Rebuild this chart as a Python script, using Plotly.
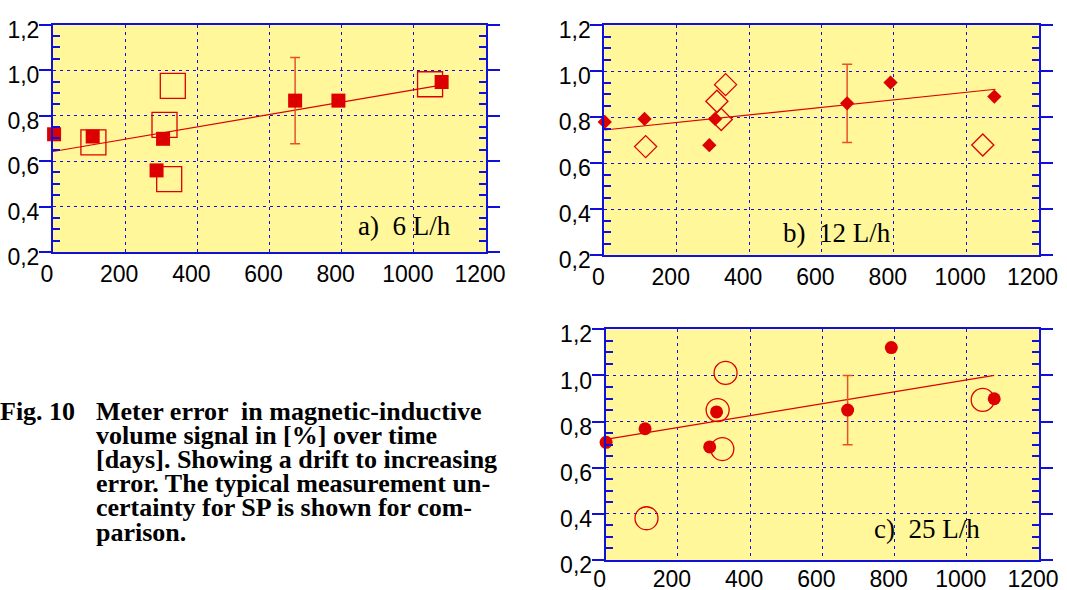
import plotly.graph_objects as go

# ---------------- data ----------------
# panel a) 6 L/h
a_fill_x = [3, 110, 287, 305, 671, 791, 1077]
a_fill_y = [0.718, 0.708, 0.559, 0.698, 0.866, 0.866, 0.948]
a_open_x = [112, 322, 309, 332, 1045]
a_open_y = [0.682, 0.521, 0.759, 0.931, 0.938]
a_trend_x = [0, 1080]
a_trend_y = [0.642, 0.935]
a_err_x = [671]
a_err_y = [0.866]
a_err = [0.19]

# panel b) 12 L/h
b_fill_x = [1, 111, 290, 306, 671, 791, 1078]
b_fill_y = [0.779, 0.792, 0.678, 0.792, 0.860, 0.950, 0.889]
b_open_x = [114, 311, 335, 323, 1046]
b_open_y = [0.672, 0.869, 0.941, 0.790, 0.679]
b_trend_x = [0, 1081]
b_trend_y = [0.744, 0.921]
b_err_x = [671]
b_err_y = [0.860]
b_err = [0.17]

# panel c) 25 L/h
c_fill_x = [1, 109, 288, 307, 670, 791, 1076]
c_fill_y = [0.710, 0.769, 0.690, 0.842, 0.850, 1.121, 0.899]
c_open_x = [113, 323, 310, 332, 1044]
c_open_y = [0.381, 0.681, 0.850, 1.011, 0.894]
c_trend_x = [0, 1076]
c_trend_y = [0.723, 1.000]
c_err_x = [670]
c_err_y = [0.850]
c_err = [0.15]

x_range = [0, 1200]
y_range = [0.2, 1.2]
y_minor_step = 0.05
panel_labels = ["a)  6 L/h", "b)  12 L/h", "c)  25 L/h"]
caption_first = "Fig. 10"
caption_lines = [
    "Meter error  in magnetic-inductive",
    "volume signal in [%] over time",
    "[days]. Showing a drift to increasing",
    "error. The typical measurement un-",
    "certainty for SP is shown for com-",
    "parison.",
]

# ---------------- style ----------------
RED = "#dd0000"
ERR = "#e8502a"
BLUE = "#1010d8"
YELLOW = "#fff799"
W, H = 1067, 590

n_minor = int(round((y_range[1] - y_range[0]) / y_minor_step))
minor_vals = [round(y_range[0] + k * y_minor_step, 3) for k in range(n_minor + 1)
              if k % 4 != 0]

fig = go.Figure()

panels = [
    dict(fx=a_fill_x, fy=a_fill_y, ox=a_open_x, oy=a_open_y, tx=a_trend_x, ty=a_trend_y,
         ex=a_err_x, ey=a_err_y, ee=a_err, fsym="square", osym="square-open", fsize=14, osize=25),
    dict(fx=b_fill_x, fy=b_fill_y, ox=b_open_x, oy=b_open_y, tx=b_trend_x, ty=b_trend_y,
         ex=b_err_x, ey=b_err_y, ee=b_err, fsym="diamond", osym="diamond-open", fsize=11, osize=17),
    dict(fx=c_fill_x, fy=c_fill_y, ox=c_open_x, oy=c_open_y, tx=c_trend_x, ty=c_trend_y,
         ex=c_err_x, ey=c_err_y, ee=c_err, fsym="circle", osym="circle-open", fsize=13, osize=23),
]

# pixel geometry of the three plot areas: (left, right, top, bottom)
boxes = [(53, 486, 24.7, 252), (604.4, 1038.5, 25, 255.3), (605.7, 1039, 329.3, 560)]
x_label_standoff = [0, 0, -3]

tick_font = dict(family="Liberation Sans, Arial", size=23, color="black")

for i, (p, b) in enumerate(zip(panels, boxes)):
    xa = "x" if i == 0 else f"x{i+1}"
    ya = "y" if i == 0 else f"y{i+1}"
    fig.add_trace(go.Scatter(x=p["tx"], y=p["ty"], mode="lines", xaxis=xa, yaxis=ya,
                             line=dict(color=RED, width=1.2), cliponaxis=False))
    fig.add_trace(go.Scatter(x=p["ex"], y=p["ey"], mode="markers", xaxis=xa, yaxis=ya,
                             marker=dict(size=1, opacity=0),
                             error_y=dict(type="data", array=p["ee"], symmetric=True,
                                          color=ERR, thickness=1.5, width=5),
                             cliponaxis=False))
    fig.add_trace(go.Scatter(x=p["ox"], y=p["oy"], mode="markers", xaxis=xa, yaxis=ya,
                             marker=dict(symbol=p["osym"], size=p["osize"], color=RED,
                                         line=dict(color=RED, width=1.3)),
                             cliponaxis=False))
    fig.add_trace(go.Scatter(x=p["fx"], y=p["fy"], mode="markers", xaxis=xa, yaxis=ya,
                             marker=dict(symbol=p["fsym"], size=p["fsize"], color=RED,
                                         line=dict(width=0)),
                             cliponaxis=False))

    l, r, t, bt = b
    xdom = [l / W, r / W]
    ydom = [1 - bt / H, 1 - t / H]
    xkey = "xaxis" if i == 0 else f"xaxis{i+1}"
    ykey = "yaxis" if i == 0 else f"yaxis{i+1}"
    fig.update_layout(**{
        xkey: dict(domain=xdom, anchor=ya, range=x_range, dtick=200, tick0=0,
                   automargin=False,
                   showline=True, linecolor=BLUE, linewidth=2, mirror=True,
                   showgrid=True, gridcolor=BLUE, gridwidth=1, griddash="3px,4px",
                   zeroline=False, ticks="", ticklabelstandoff=x_label_standoff[i],
                   ticklabelshift=-6, tickfont=tick_font),
        ykey: dict(domain=ydom, anchor=xa, range=y_range, dtick=0.2, tick0=0.2,
                   tickformat=".1f", automargin=False,
                   showline=True, linecolor=BLUE, linewidth=2, mirror="allticks",
                   showgrid=True, gridcolor=BLUE, gridwidth=1, griddash="3px,4px",
                   zeroline=False, ticks="outside", ticklen=12, tickwidth=2, tickcolor=BLUE,
                   ticklabelshift=5, ticklabelstandoff=-5,
                   minor=dict(tickmode="array", tickvals=minor_vals, ticks="inside",
                              ticklen=7, tickwidth=1.5, tickcolor=BLUE, showgrid=False),
                   tickfont=tick_font),
    })

annotations = []
label_pos = [(356, 226), (781, 233), (872, 529)]
for txt, (px, py) in zip(panel_labels, label_pos):
    annotations.append(dict(text=txt, x=px / W, y=1 - py / H, xref="paper", yref="paper",
                            xanchor="left", yanchor="middle", showarrow=False,
                            font=dict(family="Liberation Serif, Times New Roman", size=27,
                                      color="black")))

cap_font = dict(family="Liberation Serif, Times New Roman", size=26, color="black")
base0 = 411
step = 24.2
annotations.append(dict(text="<b>" + caption_first + "</b>", x=-2 / W, y=1 - base0 / H,
                        xref="paper", yref="paper", xanchor="left", yanchor="middle",
                        showarrow=False, font=cap_font))
for k, line in enumerate(caption_lines):
    annotations.append(dict(text="<b>" + line + "</b>", x=94 / W, y=1 - (base0 + k * step) / H,
                            xref="paper", yref="paper", xanchor="left", yanchor="middle",
                            showarrow=False, font=cap_font))

fig.update_layout(width=W, height=H, margin=dict(l=0, r=0, t=0, b=0, autoexpand=False),
                  paper_bgcolor="white", plot_bgcolor=YELLOW, showlegend=False,
                  separators=",.", annotations=annotations)

fig.write_html("out.html")
